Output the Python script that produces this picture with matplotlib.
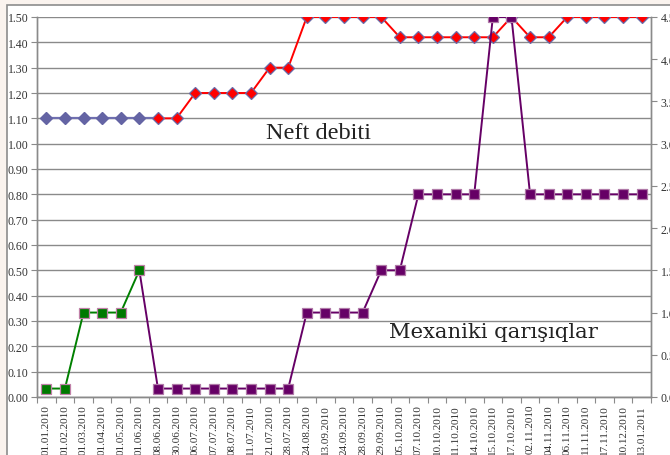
import numpy as np
import matplotlib
matplotlib.use("Agg")
import matplotlib.pyplot as plt
from matplotlib.patches import Rectangle
from matplotlib.ticker import MultipleLocator, FormatStrFormatter, FixedLocator

# data
dates = ["01.01.2010", "01.02.2010", "01.03.2010", "01.04.2010", "01.05.2010",
         "01.06.2010", "08.06.2010", "30.06.2010", "06.07.2010", "07.07.2010",
         "08.07.2010", "11.07.2010", "21.07.2010", "28.07.2010", "24.08.2010",
         "13.09.2010", "24.09.2010", "28.09.2010", "29.09.2010", "05.10.2010",
         "07.10.2010", "10.10.2010", "11.10.2010", "14.10.2010", "15.10.2010",
         "17.10.2010", "02.11.2010", "04.11.2010", "06.11.2010", "11.11.2010",
         "17.11.2010", "10.12.2010", "13.01.2011"]

# oil flow rate (left axis)
neft = [1.10, 1.10, 1.10, 1.10, 1.10, 1.10, 1.10, 1.10, 1.20, 1.20,
        1.20, 1.20, 1.30, 1.30, 1.50, 1.50, 1.50, 1.50, 1.50, 1.42,
        1.42, 1.42, 1.42, 1.42, 1.42, 1.50, 1.42, 1.42, 1.50, 1.50,
        1.50, 1.50, 1.50]

# mechanical impurities (right axis)
mexaniki = [0.1, 0.1, 1.0, 1.0, 1.0, 1.5, 0.1, 0.1, 0.1, 0.1,
            0.1, 0.1, 0.1, 0.1, 1.0, 1.0, 1.0, 1.0, 1.5, 1.5,
            2.4, 2.4, 2.4, 2.4, 4.5, 4.5, 2.4, 2.4, 2.4, 2.4,
            2.4, 2.4, 2.4]

plt.rcParams['font.family'] = ['Liberation Serif', 'DejaVu Serif']

W, H = 670, 456
fig = plt.figure(figsize=(W / 100, H / 100), dpi=100, facecolor='#faf3ee')
fig.patches.append(Rectangle((7 / W, -0.05), 1.1, 1 - 6 / H + 0.05,
                             transform=fig.transFigure, facecolor='white',
                             edgecolor='#8c8c8c', linewidth=1.2, zorder=-10))

ax = fig.add_axes([37 / W, 1 - 398 / H, (651 - 37) / W, (398 - 18) / H])
ax.set_facecolor('none')
ax2 = ax.twinx()

x = np.arange(len(dates))
n_blue = 6   # first points drawn in the slate blue colour
n_green = 6  # first points drawn in green

# oil series
ax.plot(x[:n_blue + 1], neft[:n_blue + 1], color='#7070b0', lw=1.6,
        marker='D', ms=6, mfc='#6464a4', mec='#6464a4',
        markevery=list(range(n_blue)), zorder=3)
ax.plot(x[n_blue:], neft[n_blue:], color='#ff0000', lw=1.4,
        marker='D', ms=6, mfc='#ff0000', mec='#6a6aa8', mew=0.9, zorder=3)

# mechanical impurities series
ax2.plot(x[n_green - 1:], mexaniki[n_green - 1:], color='#660066', lw=1.4,
         marker='s', ms=6.5, mfc='#660066', mec='#b07aa8', mew=0.9,
         markevery=list(range(1, len(dates) - n_green + 1)), zorder=3)
ax2.plot(x[:n_green], mexaniki[:n_green], color='#008000', lw=1.4,
         marker='s', ms=6.5, mfc='#007a00', mec='#c080a8', mew=0.9, zorder=4)

ax.set_xlim(-0.5, len(dates) - 0.5)
ax.set_ylim(0, 1.5)
ax2.set_ylim(0, 4.5)

ax.yaxis.set_major_locator(MultipleLocator(0.1))
ax.yaxis.set_major_formatter(FormatStrFormatter('%.2f'))
ax2.yaxis.set_major_locator(MultipleLocator(0.5))
ax2.yaxis.set_major_formatter(FormatStrFormatter('%.2f'))

ax.grid(axis='y', color='#8a8a8a', lw=1.0)
ax.set_axisbelow(True)

ax.xaxis.set_major_locator(FixedLocator(np.arange(-0.5, len(dates), 1.0)))
ax.xaxis.set_major_formatter(plt.NullFormatter())
ax.xaxis.set_minor_locator(FixedLocator(x))
ax.set_xticklabels(dates, minor=True, rotation=90, fontsize=8, color='#333333')
ax.tick_params(axis='x', which='major', length=4, color='#8a8a8a', direction='out')
ax.tick_params(axis='x', which='minor', length=0, pad=5)
ax.tick_params(axis='y', length=4, color='#8a8a8a', labelsize=8.5,
               labelcolor='#333333', pad=2)
ax2.tick_params(axis='y', length=4, color='#8a8a8a', labelsize=8.5,
                labelcolor='#333333', pad=3)

for a in (ax, ax2):
    a.spines['top'].set_visible(False)
    for s in ('left', 'right', 'bottom'):
        a.spines[s].set_color('#8a8a8a')
        a.spines[s].set_linewidth(1.0)

ax.text(14.62, 1.045, "Neft debiti", fontsize=17.5, ha='center', va='center',
        color='#222222', zorder=5)
ax.text(24.03, 0.26, "Mexaniki qarışıqlar", fontsize=15.2, ha='center',
        va='center', color='#222222', zorder=5, family=['DejaVu Serif'])

fig.savefig("out.png", dpi=100, facecolor=fig.get_facecolor())
